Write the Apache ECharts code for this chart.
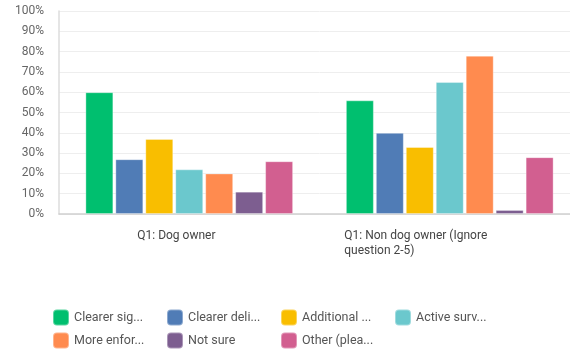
<!DOCTYPE html>
<html><head><meta charset="utf-8">
<script src="https://cdn.jsdelivr.net/npm/echarts@6/dist/echarts.min.js"></script>
<style>html,body{margin:0;padding:0;background:#fff;overflow:hidden}#c{width:580px;height:352px}</style>
</head><body><div id="c"></div>
<script>
const categories = ['Q1: Dog owner', 'Q1: Non dog owner (Ignore\nquestion 2-5)'];
const seriesNames = ['Clearer sig...', 'Clearer deli...', 'Additional ...', 'Active surv...', 'More enfor...', 'Not sure', 'Other (plea...'];
const seriesColors = ['#00BF6F', '#507CB6', '#F9BE00', '#6BC8CD', '#FF8B4F', '#7D5E90', '#D25F90'];
const values = [
  [60, 56],
  [27, 40],
  [37, 33],
  [22, 65],
  [20, 78],
  [11, 2],
  [26, 28]
];
const yTicks = [0, 10, 20, 30, 40, 50, 60, 70, 80, 90, 100];

const font = 'Roboto, "Open Sans", sans-serif';
const chart = echarts.init(document.getElementById('c'));
chart.setOption({
  animation: false,
  textStyle: { fontFamily: font },
  grid: { left: 59, right: 0, top: 11, bottom: 138, containLabel: false },
  xAxis: {
    type: 'category',
    data: categories,
    axisLine: { lineStyle: { color: '#d0d0d0', width: 1.5 } },
    axisTick: { show: false },
    axisLabel: {
      margin: 14,
      color: '#444444',
      fontSize: 12,
      fontFamily: font,
      formatter: function (v, i) {
        const key = i === 0 ? 'a' : 'b';
        return v.split('\n').map(s => '{' + key + '|' + s + '}').join('\n');
      },
      rich: {
        a: { width: 104, align: 'left', lineHeight: 15, fontSize: 12, color: '#444444', fontFamily: font },
        b: { width: 211, align: 'left', lineHeight: 15, fontSize: 12, color: '#444444', fontFamily: font }
      }
    }
  },
  yAxis: {
    type: 'value',
    min: yTicks[0],
    max: yTicks[yTicks.length - 1],
    interval: 10,
    axisLine: { show: true, lineStyle: { color: '#dddddd', width: 1.5 } },
    axisTick: { show: false },
    splitLine: { lineStyle: { color: '#eeeeee', width: 1 } },
    axisLabel: { formatter: '{value}%', color: '#666666', fontSize: 12, margin: 15, fontFamily: font }
  },
  legend: {
    left: 52,
    top: 306,
    width: 470,
    padding: 0,
    itemGap: 0,
    itemWidth: 16,
    itemHeight: 16,
    icon: 'roundRect',
    data: seriesNames,
    textStyle: { color: '#555555', fontSize: 12.5, width: 92, lineHeight: 23, height: 23, fontFamily: font }
  },
  series: seriesNames.map((n, k) => ({
    name: n,
    type: 'bar',
    data: values[k],
    barWidth: 28,
    barGap: '7%',
    itemStyle: { color: seriesColors[k], borderColor: 'rgba(255,255,255,0.35)', borderWidth: 1 }
  }))
});
</script></body></html>
